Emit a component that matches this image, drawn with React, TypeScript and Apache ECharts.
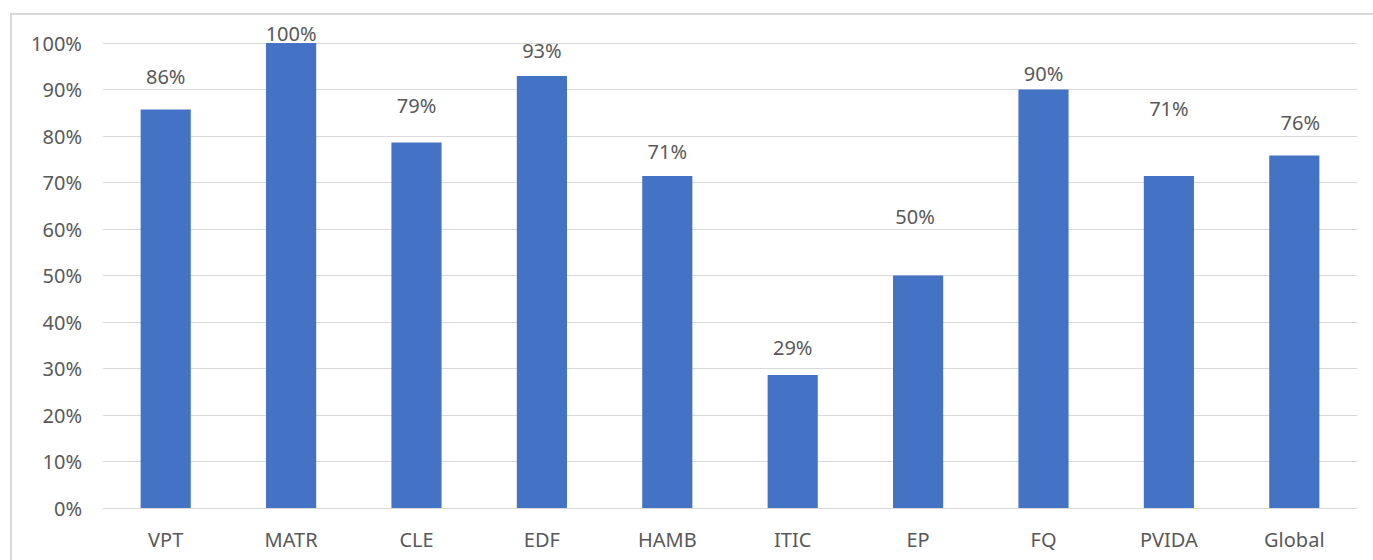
import React, { useEffect, useRef } from "react";
import * as echarts from "echarts";

const categories = ["VPT", "MATR", "CLE", "EDF", "HAMB", "ITIC", "EP", "FQ", "PVIDA", "Global"];
const values = [85.7, 100, 78.6, 92.9, 71.4, 28.6, 50, 90, 71.4, 75.8];
const labelTexts = ["86%", "100%", "79%", "93%", "71%", "29%", "50%", "90%", "71%", "76%"];
const yTicks = [0, 10, 20, 30, 40, 50, 60, 70, 80, 90, 100];

// layout: distance of each label above its bar, and horizontal nudge (px)
const labelDistances = [23, 0, 27, 16, 14, 18, 49, 6, 57, 23];
const labelNudges = [0, 0, 0, 0, 0, 0, -3, 0, 0, 6];

const FONT = "'Noto Sans', 'Open Sans', sans-serif";
const TEXT = "#595959";
const GRID = "#d9d9d9";
const FS = 20;

export default function App() {
  const ref = useRef<HTMLDivElement>(null);
  useEffect(() => {
    if (!ref.current) return;
    const chart = echarts.init(ref.current, null, { renderer: "svg" });
    chart.setOption({
      animation: false,
      backgroundColor: "#ffffff",
      graphic: [
        {
          type: "rect",
          shape: { x: 11, y: 14, width: 1400, height: 600 },
          style: { fill: "none", stroke: GRID, lineWidth: 2 },
          silent: true,
        },
      ],
      grid: { left: 103, right: 16, top: 43, bottom: 52, containLabel: false },
      xAxis: {
        type: "category",
        data: categories,
        axisTick: { show: false },
        axisLine: { show: true, lineStyle: { color: GRID, width: 1 } },
        axisLabel: { color: TEXT, fontFamily: FONT, fontSize: FS, margin: 21 },
      },
      yAxis: {
        type: "value",
        min: yTicks[0],
        max: yTicks[yTicks.length - 1],
        interval: yTicks[1] - yTicks[0],
        axisLine: { show: false },
        axisTick: { show: false },
        splitLine: { lineStyle: { color: GRID, width: 1 } },
        axisLabel: {
          color: TEXT,
          fontFamily: FONT,
          fontSize: FS,
          margin: 21,
          formatter: (v: number) => `${v}%`,
        },
      },
      series: [
        {
          type: "bar",
          barWidth: "40%",
          itemStyle: { color: "#4472c4" },
          data: values.map((v, i) => ({
            value: v,
            label: {
              show: true,
              position: "top",
              distance: labelDistances[i],
              offset: [labelNudges[i], 0],
              formatter: labelTexts[i],
              color: TEXT,
              fontFamily: FONT,
              fontSize: FS,
            },
          })),
        },
      ],
    });
    return () => chart.dispose();
  }, []);
  return (
    <div
      ref={ref}
      style={{ position: "fixed", left: 0, top: 0, width: 1373, height: 560, background: "#fff" }}
    />
  );
}
